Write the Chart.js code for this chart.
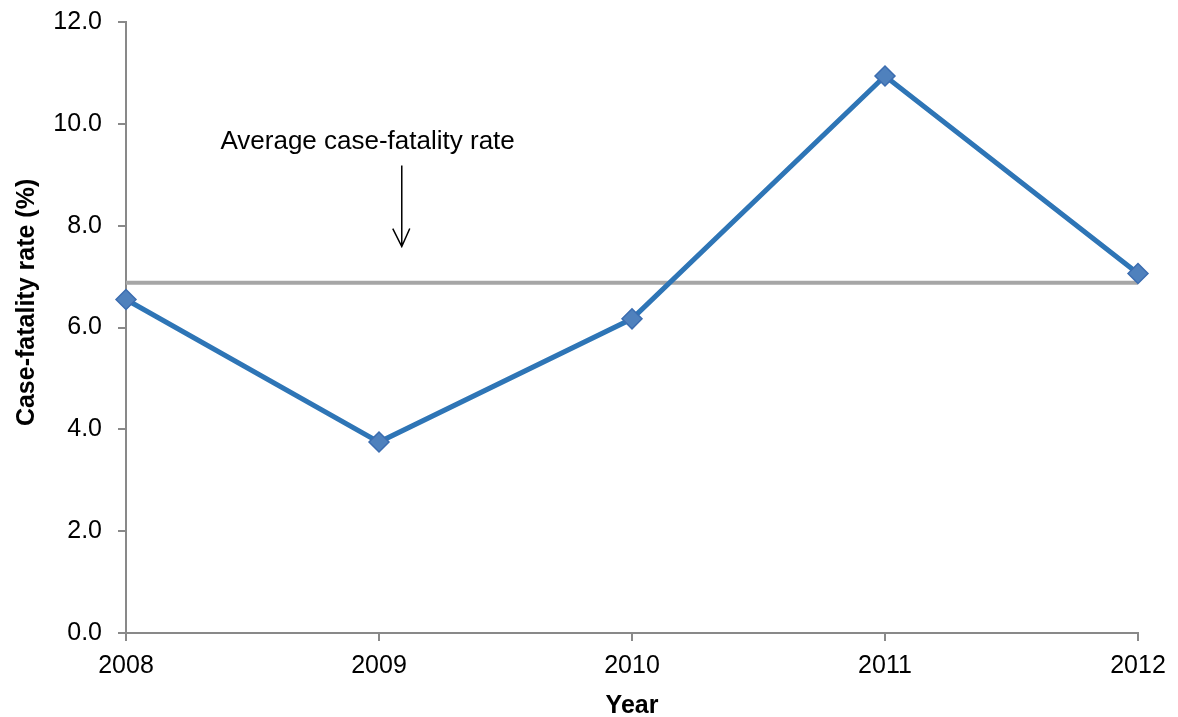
<!DOCTYPE html>
<html>
<head>
<meta charset="utf-8">
<script src="https://cdn.jsdelivr.net/npm/chart.js@4/dist/chart.umd.min.js"></script>
<style>
  html, body { margin: 0; padding: 0; background: #ffffff; }
  #wrap { width: 1178px; height: 717px; position: relative; }
</style>
</head>
<body>
<div id="wrap"><canvas id="c" width="1178" height="717"></canvas></div>
<script>
// Yearly case-fatality rate (%)
const years = ['2008', '2009', '2010', '2011', '2012'];
const fatalityRate = [6.55, 3.75, 6.17, 10.94, 7.06];
const averageRate = 6.88;
const yTicks = [0, 2, 4, 6, 8, 10, 12];

// Label and arrow pointing at the average line (in scale units)
const noteText = 'Average case-fatality rate';
const noteAt = { x: 0.955, y: 9.65 };
const arrowFrom = { x: 1.09, y: 9.18 };
const arrowTo = { x: 1.09, y: 7.59 };

const yTitleText = 'Case-fatality rate (%)';

const FONT = '"Liberation Sans", Arial, sans-serif';

const notePlugin = {
  id: 'averageNote',
  afterDatasetsDraw(chart) {
    const { ctx, scales: { x, y } } = chart;
    ctx.save();
    ctx.fillStyle = '#000';
    ctx.font = '26px ' + FONT;
    ctx.textAlign = 'center';
    ctx.textBaseline = 'middle';
    ctx.fillText(noteText, x.getPixelForValue(noteAt.x), y.getPixelForValue(noteAt.y));

    const ax = x.getPixelForValue(arrowFrom.x);
    const ay0 = y.getPixelForValue(arrowFrom.y);
    const ay1 = y.getPixelForValue(arrowTo.y);
    ctx.strokeStyle = '#000';
    ctx.lineWidth = 1.5;
    ctx.beginPath();
    ctx.moveTo(ax, ay0);
    ctx.lineTo(ax, ay1);
    ctx.moveTo(ax - 9, ay1 - 18);
    ctx.lineTo(ax, ay1);
    ctx.lineTo(ax + 8, ay1 - 18);
    ctx.stroke();
    ctx.restore();
  }
};

// Vertical axis title, set a little above the middle of the plot
const yTitlePlugin = {
  id: 'yTitle',
  afterDraw(chart) {
    const { ctx, chartArea } = chart;
    const cy = chartArea.top + (chartArea.bottom - chartArea.top) * 0.459;
    ctx.save();
    ctx.translate(27, cy);
    ctx.rotate(-Math.PI / 2);
    ctx.fillStyle = '#000';
    ctx.font = 'bold 25px ' + FONT;
    ctx.textAlign = 'center';
    ctx.textBaseline = 'middle';
    ctx.fillText(yTitleText, 0, 0);
    ctx.restore();
  }
};

new Chart(document.getElementById('c'), {
  type: 'line',
  data: {
    labels: years,
    datasets: [
      {
        label: 'Case-fatality rate',
        data: fatalityRate,
        borderColor: '#2E75B6',
        borderWidth: 5,
        pointStyle: 'rectRot',
        pointRadius: 10,
        pointBackgroundColor: '#4F81BD',
        pointBorderColor: '#3C6DB0',
        pointBorderWidth: 1.5,
        tension: 0,
        order: 1
      },
      {
        label: 'Average',
        data: years.map(() => averageRate),
        borderColor: '#A6A6A6',
        borderWidth: 4,
        pointRadius: 0,
        tension: 0,
        order: 2
      }
    ]
  },
  options: {
    responsive: false,
    animation: false,
    layout: { padding: { top: 22, right: 40, left: 0, bottom: 0 } },
    plugins: {
      legend: { display: false },
      tooltip: { enabled: false }
    },
    scales: {
      x: {
        type: 'category',
        offset: false,
        grid: { drawOnChartArea: false, drawTicks: true, tickLength: 8, color: '#898989', lineWidth: 2 },
        border: { color: '#898989', width: 2 },
        ticks: { color: '#000', font: { family: FONT, size: 25 }, padding: 10, maxRotation: 0 },
        title: { display: true, text: 'Year', color: '#000', font: { family: FONT, size: 25, weight: 'bold' }, padding: { top: 0, bottom: -4 } },
        afterFit(scale) { scale.height = 84; scale.paddingLeft = 0; scale.paddingRight = 0; }
      },
      y: {
        min: 0,
        max: 12,
        afterBuildTicks(scale) { scale.ticks = yTicks.map(v => ({ value: v })); },
        grid: { drawOnChartArea: false, drawTicks: true, tickLength: 8, color: '#898989', lineWidth: 2 },
        border: { color: '#898989', width: 2 },
        ticks: {
          color: '#000',
          font: { family: FONT, size: 25 },
          padding: 16,
          callback: v => Number(v).toFixed(1)
        },
        title: { display: false },
        afterFit(scale) { scale.width = 126; scale.paddingTop = 0; scale.paddingBottom = 0; }
      }
    }
  },
  plugins: [notePlugin, yTitlePlugin]
});
</script>
</body>
</html>
